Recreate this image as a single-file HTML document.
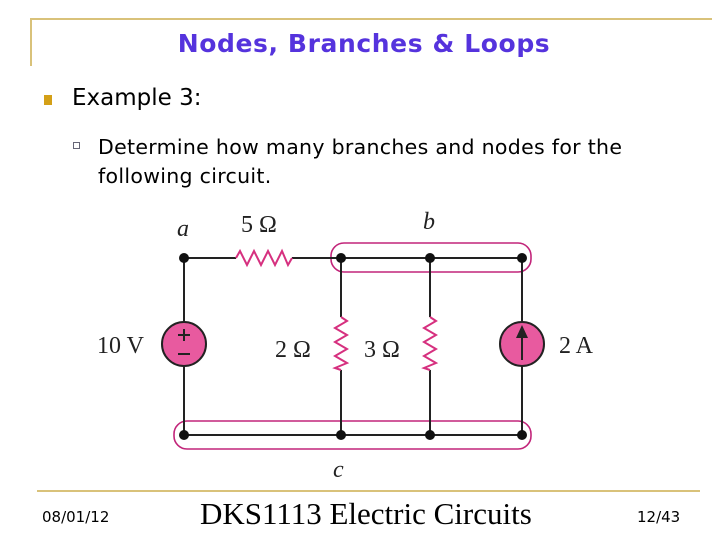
<!DOCTYPE html>
<html><head><meta charset="utf-8"><style>
body{margin:0;width:728px;height:546px;background:#fff;position:relative;overflow:hidden;font-family:"Liberation Sans","DejaVu Sans",sans-serif}
.a{position:absolute;white-space:nowrap}
</style></head><body>
<div class="a" style="left:30px;top:18px;width:682px;height:2px;background:#d9c27a"></div>
<div class="a" style="left:30px;top:18px;width:2px;height:48px;background:#d9c27a"></div>
<div class="a" style="left:0;width:728px;top:29px;text-align:center;font-size:25px;font-weight:bold;color:#5533dd;font-family:'DejaVu Sans',sans-serif;letter-spacing:0.6px">Nodes, Branches &amp; Loops</div>
<div class="a" style="left:44px;top:95px;width:8px;height:10px;background:#d4a017"></div>
<div class="a" style="left:72px;top:85px;font-size:23px;font-family:'DejaVu Sans',sans-serif">Example 3:</div>
<div class="a" style="left:73px;top:142px;width:5px;height:5px;border:1px solid #667;"></div>
<div class="a" style="left:98px;top:133px;font-size:20.5px;line-height:29px;font-family:'DejaVu Sans',sans-serif;letter-spacing:0.3px">Determine how many branches and nodes for the<br>following circuit.</div>
<svg class="a" style="left:0;top:0" width="728" height="546">
<g stroke="#c2257a" stroke-width="1.6" fill="none">
<rect x="331" y="243" width="200" height="29" rx="13"/>
<rect x="174" y="421" width="357" height="28" rx="13"/>
</g>
<g stroke="#222" stroke-width="2" fill="none">
<line x1="184" y1="258" x2="236" y2="258"/><line x1="292" y1="258" x2="522" y2="258"/>
<line x1="184" y1="435" x2="522" y2="435"/>
<line x1="184" y1="258" x2="184" y2="322"/><line x1="184" y1="366" x2="184" y2="435"/>
<line x1="341" y1="258" x2="341" y2="317"/><line x1="341" y1="370" x2="341" y2="435"/>
<line x1="430" y1="258" x2="430" y2="317"/><line x1="430" y1="370" x2="430" y2="435"/>
<line x1="522" y1="258" x2="522" y2="322"/><line x1="522" y1="366" x2="522" y2="435"/>
</g>
<g stroke="#d6307f" stroke-width="2" fill="none">
<polyline points="236,258 240,251 247,265 254,251 261,265 268,251 275,265 282,251 288,265 292,258"/>
<polyline points="341,317 347,321 335,328 347,335 335,342 347,349 335,356 347,363 335,368 341,370"/>
<polyline points="430,317 436,321 424,328 436,335 424,342 436,349 424,356 436,363 424,368 430,370"/>
</g>
<circle cx="184" cy="344" r="22" fill="#e85a9f" stroke="#222" stroke-width="2"/>
<circle cx="522" cy="344" r="22" fill="#e85a9f" stroke="#222" stroke-width="2"/>
<g stroke="#222" stroke-width="2"><line x1="184" y1="329" x2="184" y2="341"/><line x1="178" y1="335" x2="190" y2="335"/><line x1="178" y1="354" x2="190" y2="354"/><line x1="522" y1="360" x2="522" y2="335"/></g>
<polygon points="522,325 516,338 528,338" fill="#222"/>
<g fill="#111">
<circle cx="184" cy="258" r="5"/><circle cx="341" cy="258" r="5"/><circle cx="430" cy="258" r="5"/><circle cx="522" cy="258" r="5"/>
<circle cx="184" cy="435" r="5"/><circle cx="341" cy="435" r="5"/><circle cx="430" cy="435" r="5"/><circle cx="522" cy="435" r="5"/>
</g>
<g font-family="Liberation Serif,serif" font-size="24" fill="#222">
<text x="177" y="236" font-style="italic">a</text>
<text x="423" y="229" font-style="italic">b</text>
<text x="333" y="477" font-style="italic">c</text>
<text x="241" y="232">5 Ω</text>
<text x="97" y="353">10 V</text>
<text x="275" y="357">2 Ω</text>
<text x="364" y="357">3 Ω</text>
<text x="559" y="353">2 A</text>
</g>
</svg>
<div class="a" style="left:37px;top:490px;width:663px;height:2px;background:#d9c27a"></div>
<div class="a" style="left:42px;top:508px;font-size:15px;font-family:'DejaVu Sans',sans-serif">08/01/12</div>
<div class="a" style="left:200px;top:496px;font-size:31px;font-family:'Liberation Serif',serif">DKS1113 Electric Circuits</div>
<div class="a" style="left:637px;top:508px;font-size:15px;font-family:'DejaVu Sans',sans-serif">12/43</div>
</body></html>
